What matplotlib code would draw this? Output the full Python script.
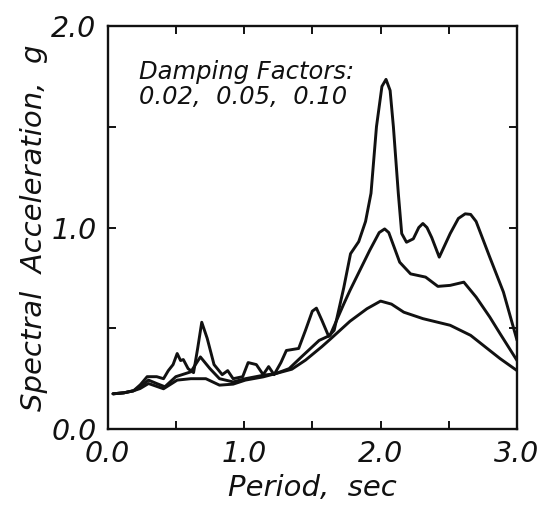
import matplotlib
matplotlib.use("Agg")
import matplotlib.pyplot as plt
from matplotlib.ticker import MultipleLocator, FuncFormatter

# Response spectra for three damping ratios (period in sec, Sa in g)
period_002 = [0.04, 0.12, 0.19, 0.24, 0.29, 0.36, 0.41, 0.445, 0.48, 0.51, 0.535,
              0.555, 0.59, 0.63, 0.66, 0.69, 0.73, 0.78, 0.84, 0.88, 0.92, 0.99,
              1.03, 1.09, 1.14, 1.18, 1.22, 1.27, 1.31, 1.40, 1.45, 1.50, 1.53,
              1.57, 1.62, 1.66, 1.73, 1.78, 1.84, 1.89, 1.93, 1.97, 2.01, 2.04,
              2.07, 2.094, 2.13, 2.155, 2.19, 2.24, 2.28, 2.31, 2.34, 2.375, 2.43,
              2.51, 2.57, 2.62, 2.66, 2.70, 2.80, 2.90, 3.0]
sa_002 = [0.175, 0.18, 0.19, 0.22, 0.26, 0.26, 0.25, 0.29, 0.32, 0.375, 0.34,
          0.345, 0.30, 0.28, 0.40, 0.53, 0.45, 0.32, 0.27, 0.29, 0.25, 0.26,
          0.33, 0.32, 0.27, 0.31, 0.27, 0.33, 0.39, 0.40, 0.49, 0.585, 0.60,
          0.54, 0.46, 0.49, 0.70, 0.87, 0.93, 1.03, 1.17, 1.50, 1.70, 1.735,
          1.68, 1.50, 1.17, 0.97, 0.927, 0.944, 1.00, 1.02, 1.00, 0.95, 0.853,
          0.97, 1.045, 1.068, 1.065, 1.03, 0.853, 0.68, 0.44]

period_005 = [0.04, 0.12, 0.19, 0.238, 0.30, 0.36, 0.42, 0.50, 0.61, 0.68, 0.75,
              0.82, 0.92, 1.01, 1.14, 1.23, 1.33, 1.42, 1.55, 1.63, 1.73, 1.776,
              1.92, 1.99, 2.03, 2.06, 2.09, 2.14, 2.22, 2.33, 2.42, 2.51, 2.61,
              2.70, 2.80, 2.875, 3.0]
sa_005 = [0.175, 0.18, 0.19, 0.21, 0.243, 0.226, 0.21, 0.26, 0.284, 0.358, 0.30,
          0.25, 0.234, 0.25, 0.267, 0.275, 0.30, 0.358, 0.44, 0.465, 0.62, 0.688,
          0.886, 0.975, 0.993, 0.975, 0.92, 0.828, 0.77, 0.754, 0.708, 0.713,
          0.729, 0.655, 0.556, 0.474, 0.34]

period_010 = [0.04, 0.12, 0.19, 0.238, 0.30, 0.41, 0.51, 0.61, 0.72, 0.82, 0.92,
              1.01, 1.14, 1.23, 1.35, 1.45, 1.57, 1.63, 1.776, 1.90, 2.0, 2.08,
              2.17, 2.31, 2.51, 2.66, 2.80, 2.875, 3.0]
sa_010 = [0.175, 0.18, 0.19, 0.201, 0.226, 0.20, 0.243, 0.25, 0.25, 0.218, 0.223,
          0.243, 0.259, 0.275, 0.297, 0.342, 0.409, 0.445, 0.535, 0.597, 0.635,
          0.62, 0.58, 0.548, 0.515, 0.465, 0.39, 0.35, 0.29]

x_ticklabels = ["0.0", "1.0", "2.0", "3.0"]
y_ticklabels = ["0.0", "1.0", "2.0"]

INK = "#111111"
plt.rcParams["font.family"] = ["DejaVu Sans"]

fig = plt.figure(figsize=(5.46, 5.09), dpi=100)
ax = fig.add_axes([0.197, 0.157, 0.750, 0.792])

for t, sa in [(period_002, sa_002), (period_005, sa_005), (period_010, sa_010)]:
    ax.plot(t, sa, color=INK, lw=2.1, solid_joinstyle="round",
            solid_capstyle="round")

ax.set_xlim(0, 3.0)
ax.set_ylim(0, 2.0)

ax.xaxis.set_major_locator(MultipleLocator(0.5))
ax.yaxis.set_major_locator(MultipleLocator(0.5))


def make_fmt(labels):
    def fmt(v, pos):
        if abs(v - round(v)) < 1e-6 and 0 <= int(round(v)) < len(labels):
            return labels[int(round(v))]
        return ""
    return fmt


ax.xaxis.set_major_formatter(FuncFormatter(make_fmt(x_ticklabels)))
ax.yaxis.set_major_formatter(FuncFormatter(make_fmt(y_ticklabels)))

ax.tick_params(direction="in", length=6, width=1.4, top=True, right=True,
               labelsize=20.5, pad=8, colors=INK)
for lab in ax.get_xticklabels() + ax.get_yticklabels():
    lab.set_fontstyle("italic")

for sp in ax.spines.values():
    sp.set_linewidth(1.7)
    sp.set_color(INK)

ax.set_xlabel("Period,  sec", fontsize=21, fontstyle="italic", color=INK,
              labelpad=4)
ax.set_ylabel("Spectral  Acceleration,  g", fontsize=21, fontstyle="italic",
              color=INK, labelpad=2)

ax.text(0.23, 1.71, "Damping Factors:\n0.02,  0.05,  0.10", fontsize=17.5,
        fontstyle="italic", color=INK, va="center", ha="left",
        linespacing=1.05)

fig.savefig("out.png", dpi=100)
